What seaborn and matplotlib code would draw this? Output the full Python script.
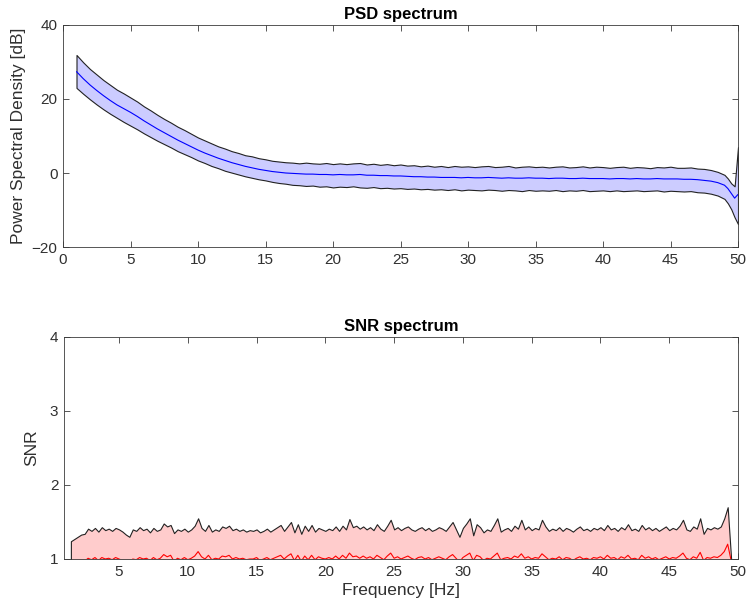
import numpy as np
import matplotlib
matplotlib.use("Agg")
import matplotlib.pyplot as plt
import seaborn as sns

# ---------------- data ----------------
psd_freq = np.concatenate([np.arange(1.0, 49.01, 0.5), [49.25, 49.5, 49.75, 50.0]])
psd_mean = [
    27.4, 25.5, 23.8, 22.3, 20.9, 19.6, 18.4, 17.4, 16.4, 15.3,
    14.1, 13.0, 11.9, 10.9, 9.9, 8.9, 8.0, 7.1, 6.2, 5.4,
    4.7, 4.0, 3.4, 2.8, 2.3, 1.8, 1.4, 1.0, 0.7, 0.4,
    0.2, 0.0, -0.1, -0.2, -0.3, -0.3, -0.4, -0.4, -0.5, -0.4,
    -0.5, -0.5, -0.4, -0.6, -0.6, -0.7, -0.7, -0.8, -0.8, -0.9,
    -1.0, -1.0, -1.1, -1.1, -1.2, -1.2, -1.2, -1.3, -1.2, -1.3,
    -1.3, -1.2, -1.3, -1.4, -1.3, -1.4, -1.4, -1.3, -1.4, -1.4,
    -1.5, -1.4, -1.4, -1.5, -1.5, -1.4, -1.5, -1.5, -1.5, -1.6,
    -1.5, -1.5, -1.6, -1.5, -1.6, -1.6, -1.5, -1.6, -1.6, -1.6,
    -1.7, -1.7, -1.8, -2.0, -2.2, -2.6, -3.3,
    -4.2, -5.5, -6.8, -5.8,
]
psd_upper = [
    31.9, 29.9, 28.1, 26.6, 25.1, 23.8, 22.5, 21.5, 20.4, 19.3,
    18.0, 16.9, 15.7, 14.6, 13.6, 12.5, 11.6, 10.6, 9.6, 8.8,
    8.0, 7.2, 6.6, 5.9, 5.4, 4.8, 4.5, 4.0, 3.7, 3.3,
    3.1, 2.9, 2.8, 2.6, 2.8, 2.6, 2.5, 2.7, 2.4, 2.6,
    2.4, 2.6, 2.7, 2.3, 2.5, 2.2, 2.4, 2.1, 2.3, 2.0,
    2.1, 1.8, 2.0, 1.7, 1.9, 1.6, 1.9, 1.7, 1.8, 1.6,
    1.8, 1.9, 1.6, 1.7, 1.9, 1.5, 1.7, 1.8, 1.6, 1.7,
    1.5, 1.7, 1.8, 1.5, 1.6, 1.8, 1.5, 1.7, 1.6, 1.4,
    1.6, 1.7, 1.4, 1.6, 1.5, 1.3, 1.6, 1.5, 1.7, 1.4,
    1.4, 1.5, 1.2, 1.1, 0.8, 0.3, -0.5,
    -1.5, -2.8, -3.6, 7.0,
]
psd_lower = [
    23.0, 21.4, 19.9, 18.5, 17.2, 16.0, 14.9, 13.8, 12.8, 11.8,
    10.7, 9.7, 8.7, 7.8, 6.9, 5.9, 5.1, 4.3, 3.4, 2.7,
    1.9, 1.3, 0.6, 0.1, -0.4, -0.9, -1.3, -1.7, -2.0, -2.4,
    -2.7, -2.9, -3.2, -3.3, -3.5, -3.4, -3.7, -3.6, -3.9, -3.7,
    -3.8, -3.6, -3.9, -4.0, -3.8, -4.1, -4.0, -4.2, -4.1, -4.3,
    -4.2, -4.4, -4.3, -4.5, -4.4, -4.6, -4.4, -4.7, -4.5, -4.6,
    -4.7, -4.5, -4.6, -4.8, -4.6, -4.7, -4.9, -4.6, -4.8, -4.7,
    -4.8, -4.6, -4.9, -4.7, -4.8, -4.6, -4.9, -4.8, -4.7, -4.9,
    -4.7, -4.9, -4.8, -4.7, -4.9, -4.8, -4.7, -5.0, -4.8, -4.9,
    -5.0, -4.9, -5.2, -5.3, -5.6, -6.1, -7.0,
    -8.2, -9.8, -12.0, -13.8,
]

snr_freq = np.arange(1.5, 49.51, 0.25)
snr_upper = [
    1.24, 1.27, 1.30, 1.33, 1.34, 1.41, 1.38, 1.42, 1.37, 1.43, 1.39, 1.41,
    1.38, 1.42, 1.40, 1.37, 1.33, 1.30, 1.40, 1.38, 1.43, 1.39, 1.41, 1.36,
    1.42, 1.38, 1.40, 1.48, 1.44, 1.46, 1.35, 1.40, 1.38, 1.41, 1.37, 1.40,
    1.45, 1.55, 1.42, 1.38, 1.46, 1.37, 1.40, 1.38, 1.44, 1.42, 1.45, 1.39,
    1.41, 1.38, 1.40, 1.37, 1.39, 1.38, 1.40, 1.36, 1.38, 1.41, 1.37, 1.40,
    1.43, 1.46, 1.38, 1.44, 1.50, 1.36, 1.47, 1.34, 1.45, 1.38, 1.46, 1.37,
    1.42, 1.40, 1.38, 1.41, 1.39, 1.44, 1.38, 1.45, 1.40, 1.54, 1.43, 1.45,
    1.41, 1.44, 1.40, 1.43, 1.39, 1.47, 1.41, 1.38, 1.45, 1.53, 1.40, 1.43,
    1.39, 1.42, 1.44, 1.40, 1.38, 1.41, 1.43, 1.39, 1.42, 1.38, 1.40, 1.43,
    1.41, 1.38, 1.44, 1.50, 1.40, 1.30, 1.42, 1.48, 1.55, 1.32, 1.47, 1.43,
    1.36, 1.40, 1.38, 1.46, 1.55, 1.37, 1.40, 1.42, 1.38, 1.45, 1.41, 1.53,
    1.40, 1.44, 1.39, 1.42, 1.40, 1.53, 1.44, 1.38, 1.41, 1.39, 1.43, 1.38,
    1.42, 1.40, 1.37, 1.41, 1.44, 1.39, 1.41, 1.38, 1.42, 1.40, 1.43, 1.39,
    1.46, 1.40, 1.42, 1.38, 1.43, 1.40, 1.47, 1.39, 1.41, 1.38, 1.46, 1.40,
    1.43, 1.39, 1.42, 1.38, 1.41, 1.44, 1.39, 1.42, 1.40, 1.45, 1.53, 1.40,
    1.38, 1.44, 1.41, 1.55, 1.34, 1.42, 1.40, 1.43, 1.41, 1.44, 1.55, 1.70,
    1.00,
]
snr_mean = [
    0.93, 0.94, 0.95, 0.96, 0.97, 1.01, 0.99, 1.02, 0.98, 1.02, 1.00, 1.01,
    0.99, 1.02, 1.00, 0.98, 0.96, 0.95, 1.00, 0.99, 1.02, 1.00, 1.01, 0.98,
    1.02, 0.99, 1.01, 1.06, 1.03, 1.05, 0.97, 1.01, 0.99, 1.02, 0.99, 1.01,
    1.04, 1.10, 1.03, 1.00, 1.05, 0.99, 1.01, 1.00, 1.04, 1.03, 1.05, 1.00,
    1.02, 1.00, 1.01, 0.99, 1.00, 1.00, 1.02, 0.98, 1.00, 1.02, 0.99, 1.01,
    1.03, 1.05, 1.00, 1.04, 1.07, 0.98, 1.05, 0.97, 1.04, 0.99, 1.05, 0.99,
    1.03, 1.01, 1.00, 1.02, 1.00, 1.04, 1.00, 1.05, 1.01, 1.08, 1.03, 1.04,
    1.01, 1.04, 1.01, 1.03, 1.00, 1.05, 1.02, 0.99, 1.04, 1.08, 1.01, 1.03,
    1.00, 1.02, 1.04, 1.01, 0.99, 1.02, 1.03, 1.00, 1.02, 0.99, 1.01, 1.03,
    1.01, 0.99, 1.03, 1.06, 1.01, 0.96, 1.02, 1.05, 1.08, 0.98, 1.05, 1.03,
    0.98, 1.01, 1.00, 1.04, 1.08, 0.99, 1.01, 1.02, 1.00, 1.04, 1.02, 1.07,
    1.01, 1.03, 1.00, 1.02, 1.01, 1.07, 1.03, 0.99, 1.01, 1.00, 1.03, 0.99,
    1.02, 1.01, 0.98, 1.01, 1.03, 1.00, 1.01, 0.99, 1.02, 1.01, 1.03, 1.00,
    1.05, 1.01, 1.02, 0.99, 1.03, 1.01, 1.05, 1.00, 1.01, 0.99, 1.05, 1.01,
    1.03, 1.00, 1.02, 0.99, 1.01, 1.03, 1.00, 1.02, 1.01, 1.04, 1.08, 1.01,
    0.99, 1.03, 1.01, 1.09, 0.98, 1.02, 1.01, 1.03, 1.02, 1.05, 1.10, 1.20,
    0.98,
]
snr_band_floor = 0.5  # lower edge of the SNR band lies below the visible range

psd_xticks = [0, 5, 10, 15, 20, 25, 30, 35, 40, 45, 50]
psd_yticks = [-20, 0, 20, 40]
snr_xticks = [5, 10, 15, 20, 25, 30, 35, 40, 45, 50]
snr_yticks = [1, 2, 3, 4]

# ---------------- style ----------------
sns.set_style("ticks")
plt.rcParams["font.family"] = ["Liberation Sans", "DejaVu Sans"]

AX_COL = "#3a3a3a"
TXT_COL = "#303030"

fig = plt.figure(figsize=(7.48, 6.10), dpi=100)
W, H = 748.0, 610.0
ax1 = fig.add_axes([63 / W, 1 - 247 / H, 675 / W, 222 / H])
ax2 = fig.add_axes([64 / W, 1 - 559 / H, 674 / W, 222 / H])


def style(ax):
    for s in ax.spines.values():
        s.set_visible(True)
        s.set_color(AX_COL)
        s.set_linewidth(0.6)
    ax.tick_params(direction="in", length=4.5, width=0.6, top=True, right=True,
                   labelsize=11, colors=AX_COL, labelcolor=TXT_COL, pad=4)
    ax.grid(False)


# ---- PSD panel ----
ax1.fill_between(psd_freq, psd_lower, psd_upper, facecolor="#ccccff",
                 edgecolor="#222222", linewidth=0.8, zorder=2)
sns.lineplot(x=psd_freq, y=psd_mean, ax=ax1, color="#0000ff", linewidth=0.8,
             estimator=None, sort=False, zorder=3)
ax1.set_xlim(0, 50)
ax1.set_ylim(-20, 40)
ax1.set_xticks(psd_xticks)
ax1.set_yticks(psd_yticks)
ax1.set_title("PSD spectrum", fontsize=12, fontweight="bold", pad=4, color="black")
ax1.set_ylabel("Power Spectral Density [dB]", fontsize=12.5, color=TXT_COL, labelpad=4)
ax1.set_xlabel("")
style(ax1)

# ---- SNR panel ----
ax2.set_xlim(1, 50)
ax2.set_ylim(1, 4)
ax2.fill_between(snr_freq, snr_band_floor, snr_upper, facecolor="#ffcccc",
                 edgecolor="#222222", linewidth=0.8, zorder=2)
sns.lineplot(x=snr_freq, y=snr_mean, ax=ax2, color="#ff0000", linewidth=0.8,
             estimator=None, sort=False, zorder=3)
ax2.set_xticks(snr_xticks)
ax2.set_yticks(snr_yticks)
ax2.set_title("SNR spectrum", fontsize=12, fontweight="bold", pad=4, color="black")
ax2.set_ylabel("SNR", fontsize=12.5, color=TXT_COL, labelpad=8)
ax2.set_xlabel("Frequency [Hz]", fontsize=12.5, color=TXT_COL, labelpad=3)
style(ax2)

fig.savefig("out.png", dpi=100)
